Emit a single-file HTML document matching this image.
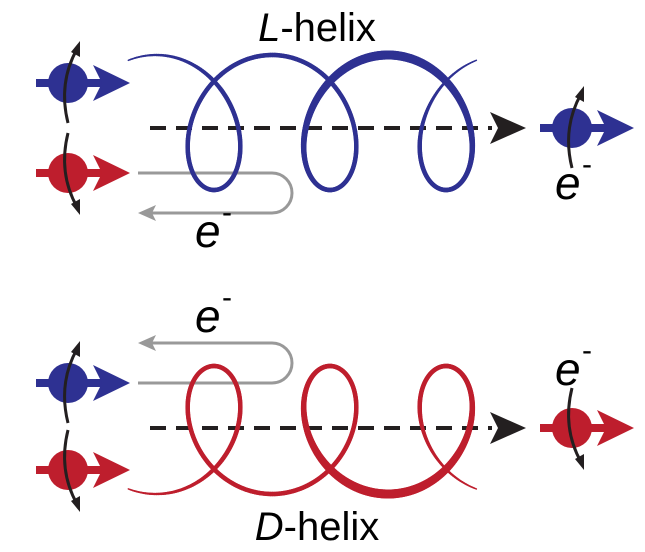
<!DOCTYPE html>
<html><head><meta charset="utf-8"><style>
html,body{margin:0;padding:0;background:#fff;}
svg{display:block;}
text{font-family:"Liberation Sans",sans-serif;fill:#000;}
</style></head><body>
<svg id="s" width="645" height="552" viewBox="0 0 645 552" xmlns="http://www.w3.org/2000/svg">
<defs>
 <g id="spinB">
  <rect x="-32" y="-4" width="70" height="8" fill="#2e3192"/>
  <circle cx="0" cy="0" r="20" fill="#2e3192"/>
  <path d="M25,-18 L62,0 L25,18 L34,0 Z" fill="#2e3192"/>
 </g>
 <g id="spinR">
  <rect x="-32" y="-4" width="70" height="8" fill="#be1e2d"/>
  <circle cx="0" cy="0" r="20" fill="#be1e2d"/>
  <path d="M25,-18 L62,0 L25,18 L34,0 Z" fill="#be1e2d"/>
 </g>
 <g id="upArr">
  <path d="M0,40 Q-10,0 9,-34" fill="none" stroke="#231f20" stroke-width="3"/>
  <path d="M12,-42 L12,-26 L3,-31 Z" fill="#231f20"/>
 </g>
 <g id="dnArr">
  <path d="M0,-40 Q-10,0 9,34" fill="none" stroke="#231f20" stroke-width="3"/>
  <path d="M12,42 L12,26 L3,31 Z" fill="#231f20"/>
 </g>
</defs>

<text x="317" y="41" font-size="40" text-anchor="middle"><tspan font-style="italic">L</tspan>-helix</text>
<text x="317" y="540" font-size="40" text-anchor="middle"><tspan font-style="italic">D</tspan>-helix</text>

<line x1="150" y1="128" x2="492" y2="128" stroke="#231f20" stroke-width="4" stroke-dasharray="16 10"/>
<path d="M490,112 L526,128 L490,144 L498,128 Z" fill="#231f20"/>
<line x1="150" y1="428" x2="492" y2="428" stroke="#231f20" stroke-width="4" stroke-dasharray="16 10"/>
<path d="M490,412 L526,428 L490,444 L498,428 Z" fill="#231f20"/>

<path d="M138,173 H272 A20,20 0 0 1 272,213 H150" fill="none" stroke="#999" stroke-width="3"/>
<path d="M138,213 L156,205 L152,213 L156,221 Z" fill="#999"/>
<text x="195" y="247" font-size="46" font-style="italic">e</text><text x="222" y="222" font-size="30">-</text>

<path d="M138,383 H272 A20,20 0 0 0 272,343 H150" fill="none" stroke="#999" stroke-width="3"/>
<path d="M138,343 L156,335 L152,343 L156,351 Z" fill="#999"/>
<text x="195" y="332" font-size="46" font-style="italic">e</text><text x="222" y="307" font-size="30">-</text>

<g id="helices"></g>

<use href="#spinB" x="68" y="83"/><use href="#upArr" x="68" y="83"/>
<use href="#spinR" x="68" y="173"/><use href="#dnArr" x="68" y="173"/>
<use href="#spinB" x="572" y="128"/><use href="#upArr" x="572" y="128"/>
<text x="555" y="199" font-size="46" font-style="italic">e</text><text x="582" y="174" font-size="30">-</text>

<use href="#spinB" x="68" y="383"/><use href="#upArr" x="68" y="383"/>
<use href="#spinR" x="68" y="470"/><use href="#dnArr" x="68" y="470"/>
<use href="#spinR" x="572" y="428"/><use href="#dnArr" x="572" y="428"/>
<text x="555" y="385" font-size="46" font-style="italic">e</text><text x="582" y="360" font-size="30">-</text>
</svg>
<script>
(function(){
 var g=document.getElementById('helices');
 var NS='http://www.w3.org/2000/svg';
 function helix(color,yc,ry,sign){
  var p=116/(2*Math.PI),rx=52,x0=156;
  var t0=-0.4,t1=6*Math.PI-0.4,N=600;
  function pt(t){return [x0+p*t+rx*Math.sin(t), yc-sign*ry*Math.cos(t)];}
  function w(t){
   var base=4.5+4.5*Math.exp(-Math.pow((t-4*Math.PI)/1.6,2));
   var e=Math.min(t-t0,t1-t)/1.5; if(e<1) base=1.5+(base-1.5)*Math.max(e,0);
   return base;
  }
  var prev=pt(t0);
  for(var i=1;i<=N;i++){
   var t=t0+(t1-t0)*i/N, c=pt(t);
   var l=document.createElementNS(NS,'line');
   l.setAttribute('x1',prev[0]);l.setAttribute('y1',prev[1]);
   l.setAttribute('x2',c[0]);l.setAttribute('y2',c[1]);
   l.setAttribute('stroke',color);l.setAttribute('stroke-width',w(t));
   l.setAttribute('stroke-linecap','round');
   g.appendChild(l);prev=c;
  }
 }
 helix('#2e3192',122.5,67.5,1);
 helix('#be1e2d',430,64,-1);
})();
</script>
</body></html>
